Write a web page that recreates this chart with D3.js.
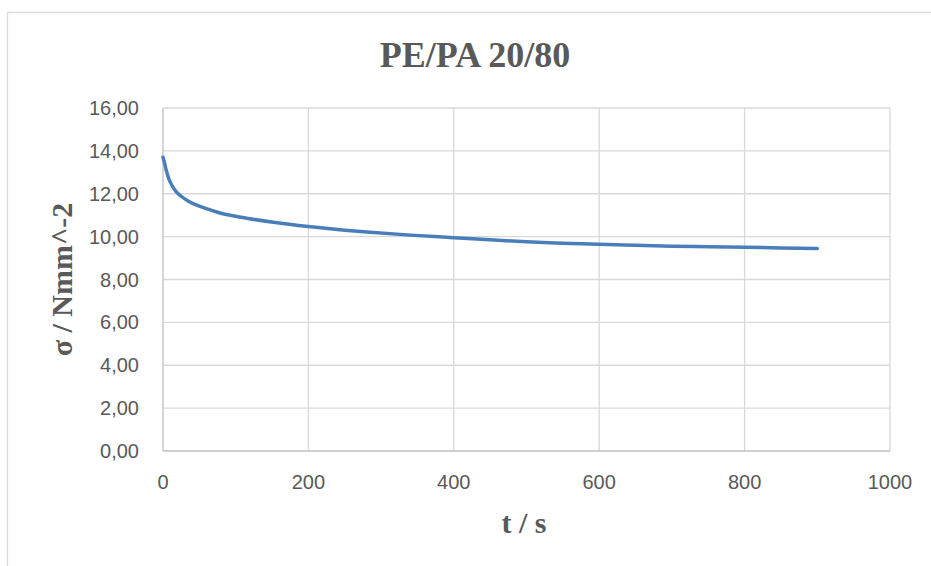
<!DOCTYPE html>
<html>
<head>
<meta charset="utf-8">
<script src="https://cdn.jsdelivr.net/npm/d3@7"></script>
<style>
  html, body { margin: 0; padding: 0; background: #ffffff; }
  #chart { width: 931px; height: 566px; overflow: hidden; }
</style>
</head>
<body>
<div id="chart"></div>
<script>
//
// stress relaxation chart, PE/PA 20/80
//
var chartTitle = "PE/PA 20/80";
var xTitle = "t / s";
var yTitle = "σ / Nmm^-2";

// time in s
var timeValues = [0, 2, 5, 8, 12, 18, 26, 35, 49, 65, 81, 100, 117, 152, 200, 250, 285, 340,
    400, 450, 500, 550, 600, 650, 700, 750, 800, 850, 900];
// stress in N/mm^2
var sigmaValues = [13.70, 13.45, 13.03, 12.70, 12.41, 12.10, 11.86, 11.65, 11.43, 11.25, 11.08, 10.95, 10.85, 10.67, 10.47, 10.30, 10.20, 10.07,
    9.95, 9.85, 9.76, 9.695, 9.64, 9.595, 9.555, 9.525, 9.50, 9.475, 9.45];

var xTicks = [0, 200, 400, 600, 800, 1000];
var yTicks = [0, 2, 4, 6, 8, 10, 12, 14, 16];

function drawChart(divName, width, height) {
    var left = 163, right = 890, top = 108, bottom = 451;

    var svg = d3.select("#" + divName)
        .append("svg")
        .attr("width", width)
        .attr("height", height);

    // chart area border (runs off the right and bottom edge)
    svg.append("rect")
        .attr("x", 7.5)
        .attr("y", 12.5)
        .attr("width", 1000)
        .attr("height", 1000)
        .attr("fill", "#ffffff")
        .attr("stroke", "#d9d9d9")
        .attr("stroke-width", 1.3);

    var x = d3.scaleLinear().domain([0, 1000]).range([left, right]);
    var y = d3.scaleLinear().domain([0, 16]).range([bottom, top]);

    // gridlines
    svg.append("g")
        .selectAll("line.v")
        .data(xTicks.slice(1))
        .enter()
        .append("line")
        .attr("x1", function (d) { return x(d); })
        .attr("x2", function (d) { return x(d); })
        .attr("y1", top)
        .attr("y2", bottom)
        .attr("stroke", "#d9d9d9")
        .attr("stroke-width", 1.3);

    svg.append("g")
        .selectAll("line.h")
        .data(yTicks.slice(1))
        .enter()
        .append("line")
        .attr("x1", left)
        .attr("x2", right)
        .attr("y1", function (d) { return y(d); })
        .attr("y2", function (d) { return y(d); })
        .attr("stroke", "#d9d9d9")
        .attr("stroke-width", 1.3);

    // axis lines
    svg.append("line")
        .attr("x1", left).attr("x2", left)
        .attr("y1", top).attr("y2", bottom)
        .attr("stroke", "#bfbfbf").attr("stroke-width", 1.3);
    svg.append("line")
        .attr("x1", left).attr("x2", right)
        .attr("y1", bottom).attr("y2", bottom)
        .attr("stroke", "#bfbfbf").attr("stroke-width", 1.3);

    // tick labels
    var fmt = function (d) { return d3.format(".2f")(d).replace(".", ","); };

    svg.append("g")
        .selectAll("text")
        .data(yTicks)
        .enter()
        .append("text")
        .attr("x", left - 24)
        .attr("y", function (d) { return y(d); })
        .attr("dy", "0.35em")
        .style("text-anchor", "end")
        .style("font-family", "'Liberation Sans', Arial, sans-serif")
        .style("font-size", "20px")
        .attr("fill", "#595959")
        .text(fmt);

    svg.append("g")
        .selectAll("text")
        .data(xTicks)
        .enter()
        .append("text")
        .attr("x", function (d) { return x(d); })
        .attr("y", bottom + 38)
        .style("text-anchor", "middle")
        .style("font-family", "'Liberation Sans', Arial, sans-serif")
        .style("font-size", "20px")
        .attr("fill", "#595959")
        .text(function (d) { return d; });

    // titles
    svg.append("text")
        .attr("x", 475)
        .attr("y", 67)
        .style("text-anchor", "middle")
        .style("font-family", "'Liberation Serif', 'Times New Roman', serif")
        .style("font-weight", "bold")
        .style("font-size", "36px")
        .attr("fill", "#595959")
        .text(chartTitle);

    svg.append("text")
        .attr("x", 524)
        .attr("y", 533)
        .style("text-anchor", "middle")
        .style("font-family", "'Liberation Serif', 'Times New Roman', serif")
        .style("font-weight", "bold")
        .style("font-size", "30px")
        .attr("fill", "#595959")
        .text(xTitle);

    svg.append("text")
        .attr("transform", "translate(72," + ((top + bottom) / 2) + ") rotate(-90)")
        .style("text-anchor", "middle")
        .style("font-family", "'Liberation Serif', 'Times New Roman', serif")
        .style("font-weight", "bold")
        .style("font-size", "30px")
        .attr("fill", "#595959")
        .text(yTitle);

    // data line
    var data = timeValues.map(function (t, i) { return { 'X': t, 'Y': sigmaValues[i] }; });

    var line = d3.line()
        .x(function (d) { return x(d.X); })
        .y(function (d) { return y(d.Y); })
        .curve(d3.curveMonotoneX);

    svg.append("path")
        .datum(data)
        .attr("d", line)
        .attr("fill", "none")
        .attr("stroke", "#4a7ebb")
        .attr("stroke-width", 3.5)
        .attr("stroke-linecap", "round")
        .attr("stroke-linejoin", "round");

    return svg;
}

drawChart("chart", 931, 566);
</script>
</body>
</html>
